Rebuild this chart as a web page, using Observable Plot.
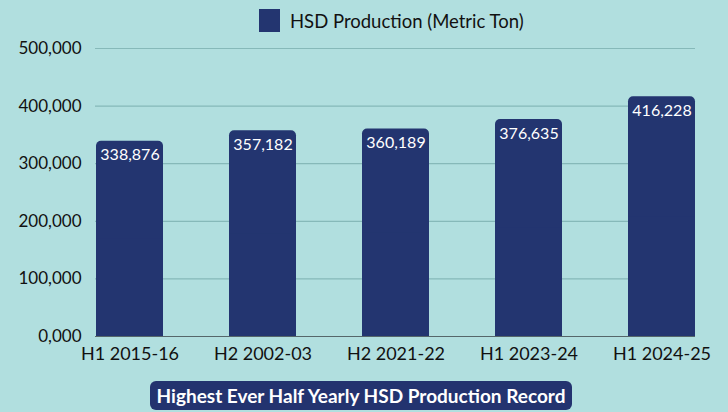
<!DOCTYPE html>
<html>
<head>
<meta charset="utf-8">
<script src="https://cdn.jsdelivr.net/npm/d3@7"></script>
<script src="https://cdn.jsdelivr.net/npm/@observablehq/plot@0.6"></script>
<style>
  html, body { margin: 0; padding: 0; background: #b1dfdf; width: 728px; height: 412px; overflow: hidden; font-family: Lato, "Open Sans", sans-serif; }
  #legend { position: absolute; left: 259px; top: 9px; display: flex; align-items: center; font-size: 18.5px; color: #111; white-space: nowrap; }
  #legend .sw { width: 21px; height: 23px; background: #233570; margin-right: 10px; }
  #chart { position: absolute; left: 0; top: 38px; }
  #caption { position: absolute; left: 150px; top: 381px; width: 422px; height: 29px; border-radius: 6px; background: #23336f; color: #fff; font-weight: bold; font-size: 19px; display: flex; align-items: center; justify-content: center; white-space: nowrap; }
</style>
</head>
<body>
<div id="legend"><div class="sw"></div><span>HSD Production (Metric Ton)</span></div>
<div id="chart"></div>
<div id="caption">Highest Ever Half Yearly HSD Production Record</div>
<script>
const periods = ["H1 2015-16", "H2 2002-03", "H2 2021-22", "H1 2023-24", "H1 2024-25"];
const production = [338876, 357182, 360189, 376635, 416228];
const yTicks = [0, 100000, 200000, 300000, 400000, 500000];

const data = periods.map((p, i) => ({period: p, value: production[i]}));
const fmt = d3.format(",");
const barColor = "#233570";

const chart = Plot.plot({
  width: 728,
  height: 334,
  marginLeft: 95,
  marginRight: 33,
  marginTop: 10,
  marginBottom: 36,
  style: {background: "transparent", fontFamily: "Lato, 'Open Sans', sans-serif", color: "#111"},
  x: {domain: periods, padding: 0.5, paddingOuter: 0, align: 0.5, label: null},
  y: {domain: [0, 500000], label: null},
  marks: [
    Plot.ruleY(yTicks.slice(1), {stroke: "#86b9b9", strokeWidth: 1.2}),
    Plot.barY(data, {x: "period", y: "value", fill: barColor, rx: 5}),
    Plot.barY(data, {x: "period", y1: 0, y2: d => d.value / 2, fill: barColor}),
    Plot.ruleY([0], {stroke: "#55676a", strokeWidth: 1.2}),
    Plot.text(data, {x: "period", y: "value", text: d => fmt(d.value), fill: "white", dy: 14, fontSize: 16}),
    Plot.axisY({ticks: yTicks, tickSize: 0, tickPadding: 14, fontSize: 17, tickFormat: d => d === 0 ? "0,000" : fmt(d), label: null}),
    Plot.axisX({tickSize: 0, tickPadding: 11, fontSize: 18, label: null})
  ]
});
document.getElementById("chart").appendChild(chart);
</script>
</body>
</html>
